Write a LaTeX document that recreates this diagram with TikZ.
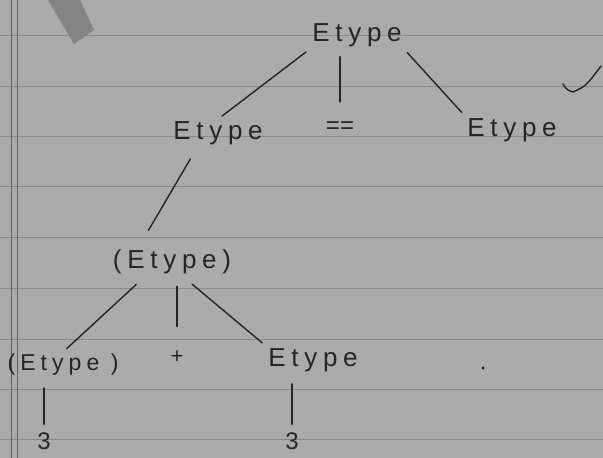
\documentclass[tikz,border=0pt]{standalone}
\usepackage{fontspec}
\setmainfont{Liberation Sans}
\newfontfamily\handfont[LetterSpace=22]{Liberation Sans}
\definecolor{paper}{HTML}{ACAAAD}
\definecolor{rulegray}{HTML}{8B898C}
\definecolor{ink}{HTML}{262426}
\definecolor{smudge}{HTML}{858386}

\tikzset{
    word/.style={inner sep=2pt, text=ink, font=\handfont\fontsize{26}{30}\selectfont},
    sign/.style={inner sep=2pt, text=ink, font=\fontsize{22}{26}\selectfont},
    branch/.style={draw=ink, line width=1.4pt, line cap=round, shorten <=5pt, shorten >=5pt},
    paperline/.style={draw=rulegray, line width=0.9pt}
}

\begin{document}
\begin{tikzpicture}[x=1pt, y=-1pt, >=stealth]
    % the notebook page
    \fill[paper] (0,0) rectangle (603,458);
    \useasboundingbox (0,0) rectangle (603,458);
    \foreach \yy in {35,86,136,186,237,288,339,389,439}
        \draw[paperline] (0,\yy) -- (603,\yy);
    \draw[rulegray!70!black, line width=1pt] (11,0) -- (11,458);
    \draw[rulegray!70!black, line width=1pt] (17,0) -- (17,458);
    \fill[smudge] (48,0) -- (80,0) -- (94,30) -- (74,44) -- cycle;

    % the tree
    \node[word] (etop) at (357,35) {Etype};

    \node[word] (eleft) at (218,133) {Etype};
    \node[sign, font=\fontsize{24}{28}\selectfont] (eq) at (340,128) {==};
    \node[word] (eright) at (512,130) {Etype};

    \node[word] (paren) at (172,262) {(Etype)};

    \node[word, font=\handfont\fontsize{23}{26}\selectfont] (bleft) at (63,365) {(Etype )};
    \node[sign] (plus) at (177,357) {+};
    \node[word] (bright) at (313,360) {Etype};

    \node[sign, font=\fontsize{24}{28}\selectfont] (threea) at (44,441) {3};
    \node[sign, font=\fontsize{24}{28}\selectfont] (threeb) at (292,441) {3};

    \draw[branch] (etop.south west) -- (eleft.north);
    \draw[branch, shorten <=8pt, shorten >=18pt] (etop.south -| eq.north) -- (eq.north);
    \draw[branch] (etop.south east) -- (eright.north west);

    \draw[branch, shorten <=14pt, shorten >=20pt] (eleft.214) -- (paren.157);

    \draw[branch, shorten <=12pt] (paren.208) -- (bleft.north);
    \draw[branch, shorten <=10pt, shorten >=22pt] (paren.south -| plus.north) -- (plus.north);
    \draw[branch, shorten <=12pt] (paren.307) -- (bright.north west);

    \draw[branch, shorten <=10pt, shorten >=6pt] (bleft.south -| threea.north) -- (threea.north);
    \draw[branch, shorten <=10pt, shorten >=6pt] (bright.south -| threeb.north) -- (threeb.north);

    % tick and stray dot
    \draw[ink, line width=1.4pt, line cap=round]
        (563,84) .. controls (567,90) .. (573,92) .. controls (586,86) .. (601,66);
    \fill[ink] (483,368) circle (1.6);
\end{tikzpicture}
\end{document}
